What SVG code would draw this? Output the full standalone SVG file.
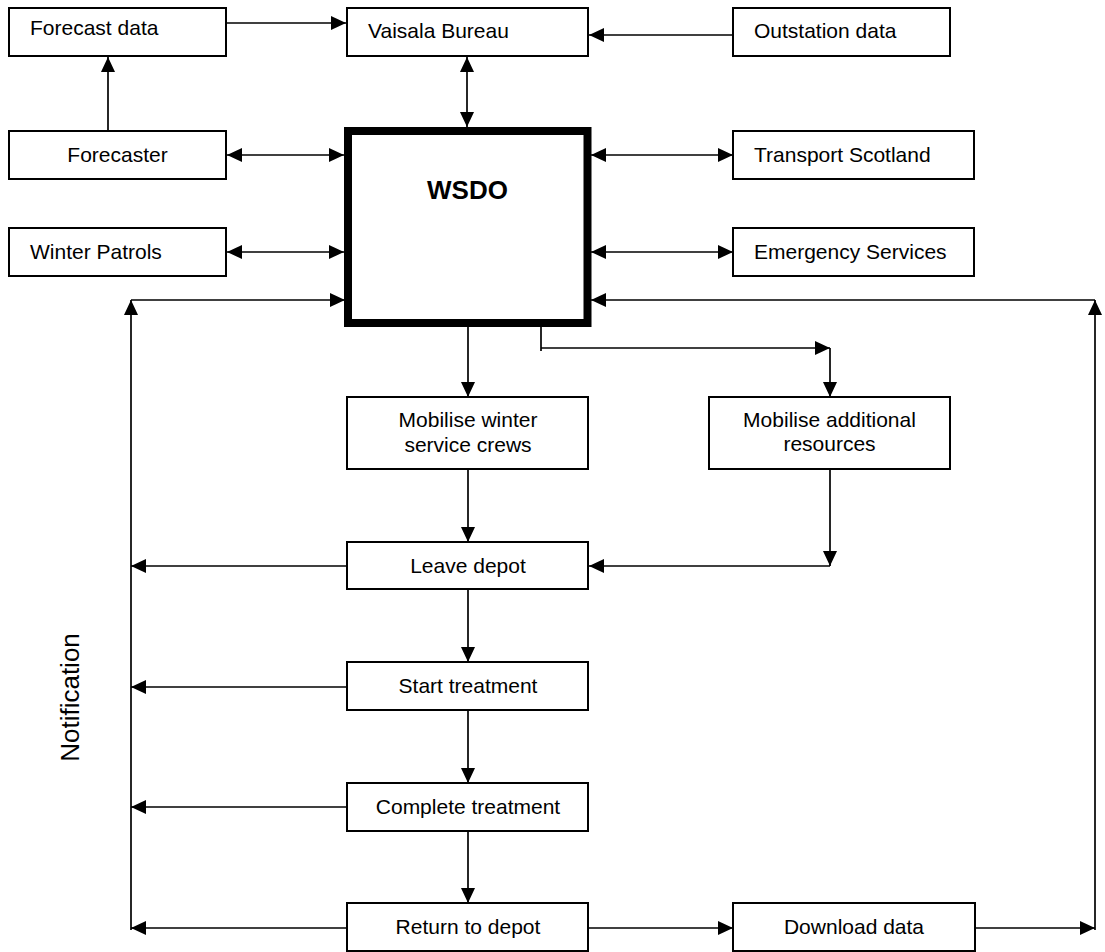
<svg xmlns="http://www.w3.org/2000/svg" width="1105" height="952" viewBox="0 0 1105 952">
<style>
.box{fill:#fff;stroke:#000;stroke-width:2}
.t{font-family:"Liberation Sans",Arial,sans-serif;font-size:21px;fill:#000}
.c{text-anchor:middle}
.ln{fill:none;stroke:#000;stroke-width:1.7}
.a{marker-end:url(#ah)}
.d{marker-start:url(#ah);marker-end:url(#ah)}
</style>
<defs>
<marker id="ah" markerUnits="userSpaceOnUse" markerWidth="15" markerHeight="14" refX="15" refY="7" orient="auto-start-reverse" viewBox="0 0 15 14">
<path d="M0,0 L15,7 L0,14 z" fill="#000"/>
</marker>
</defs>
<rect width="1105" height="952" fill="#fff"/>
<g id="connectors">
<path class="ln a" d="M223,23 H346"/>
<path class="ln a" d="M733,35 H589"/>
<path class="ln d" d="M467,57 V127"/>
<path class="ln a" d="M108,131 V57"/>
<path class="ln d" d="M227,155 H344"/>
<path class="ln d" d="M227,252 H344"/>
<path class="ln d" d="M591,155 H733"/>
<path class="ln d" d="M591,252 H733"/>
<path class="ln a" d="M131,930 V300"/>
<path class="ln a" d="M131,300 H345"/>
<path class="ln a" d="M1095,930 V300"/>
<path class="ln a" d="M1095,300 H591"/>
<path class="ln a" d="M468,327 V397"/>
<path class="ln" d="M541,327 V351"/>
<path class="ln a" d="M541,348 H830"/>
<path class="ln a" d="M830,348 V397"/>
<path class="ln a" d="M468,469 V542"/>
<path class="ln a" d="M830,469 V566"/>
<path class="ln a" d="M830,566 H589"/>
<path class="ln a" d="M347,566 H131"/>
<path class="ln a" d="M468,589 V662"/>
<path class="ln a" d="M347,687 H131"/>
<path class="ln a" d="M468,710 V783"/>
<path class="ln a" d="M347,807 H131"/>
<path class="ln a" d="M468,831 V903"/>
<path class="ln a" d="M347,928 H131"/>
<path class="ln a" d="M588,928 H733"/>
<path class="ln a" d="M975,928 H1095"/>
</g>
<g id="forecast-data"><rect class="box" x="9" y="8" width="217" height="48"/><text class="t" x="30" y="35">Forecast data</text></g>
<g id="vaisala-bureau"><rect class="box" x="347" y="8" width="241" height="48"/><text class="t" x="368" y="38">Vaisala Bureau</text></g>
<g id="outstation-data"><rect class="box" x="733" y="8" width="217" height="48"/><text class="t" x="754" y="38">Outstation data</text></g>
<g id="forecaster"><rect class="box" x="9" y="131" width="217" height="48"/><text class="t c" x="117.5" y="162">Forecaster</text></g>
<g id="transport-scotland"><rect class="box" x="733" y="131" width="241" height="48"/><text class="t" x="754" y="162">Transport Scotland</text></g>
<g id="winter-patrols"><rect class="box" x="9" y="228" width="217" height="48"/><text class="t" x="30" y="259">Winter Patrols</text></g>
<g id="emergency-services"><rect class="box" x="733" y="228" width="241" height="48"/><text class="t" x="754" y="259">Emergency Services</text></g>
<g id="wsdo"><rect x="348" y="131" width="239.5" height="192" fill="#fff" stroke="#000" stroke-width="8"/><text class="t c" x="467.5" y="199" style="font-size:26px;font-weight:bold">WSDO</text></g>
<g id="mobilise-crews"><rect class="box" x="347" y="397" width="241" height="72"/><text class="t c" x="468" y="427">Mobilise winter</text><text class="t c" x="468" y="452">service crews</text></g>
<g id="mobilise-additional"><rect class="box" x="709" y="397" width="241" height="72"/><text class="t c" x="829.5" y="427">Mobilise additional</text><text class="t c" x="829.5" y="451">resources</text></g>
<g id="leave-depot"><rect class="box" x="347" y="542" width="241" height="47"/><text class="t c" x="468" y="573">Leave depot</text></g>
<g id="start-treatment"><rect class="box" x="347" y="662" width="241" height="48"/><text class="t c" x="468" y="693">Start treatment</text></g>
<g id="complete-treatment"><rect class="box" x="347" y="783" width="241" height="48"/><text class="t c" x="468" y="814">Complete treatment</text></g>
<g id="return-to-depot"><rect class="box" x="347" y="903" width="241" height="48"/><text class="t c" x="468" y="934">Return to depot</text></g>
<g id="download-data"><rect class="box" x="733" y="903" width="242" height="48"/><text class="t c" x="854" y="934">Download data</text></g>
<g id="notification-label"><text class="t c" transform="translate(79,697.5) rotate(-90)" style="font-size:26px">Notification</text></g>
</svg>
